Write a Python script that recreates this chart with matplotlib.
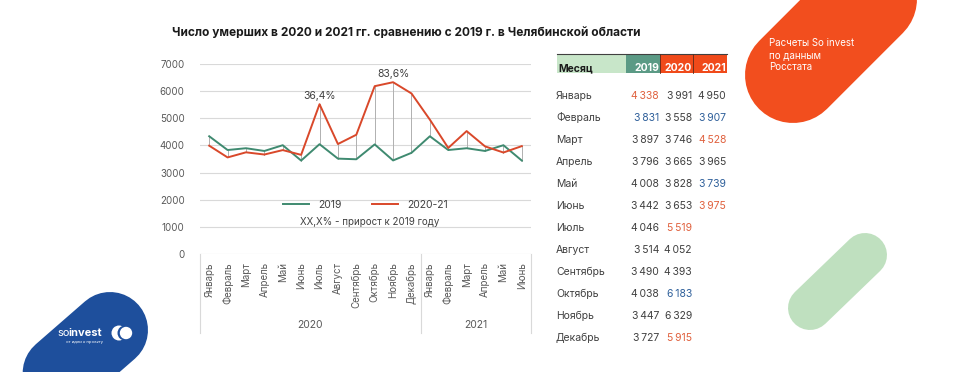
import matplotlib.pyplot as plt
from matplotlib.lines import Line2D
from matplotlib.patches import Rectangle, Circle

plt.rcParams['font.family'] = ['Inter', 'DejaVu Sans']

months = ['Январь', 'Февраль', 'Март', 'Апрель', 'Май', 'Июнь',
          'Июль', 'Август', 'Сентябрь', 'Октябрь', 'Ноябрь', 'Декабрь']
d2019 = [4338, 3831, 3897, 3796, 4008, 3442, 4046, 3514, 3490, 4038, 3447, 3727]
d2020 = [3991, 3558, 3746, 3665, 3828, 3653, 5519, 4052, 4393, 6183, 6329, 5915]
d2021 = [4950, 3907, 4528, 3965, 3739, 3975]
years = ['2020', '2021']
labelled = [6, 10]  # Июль и Ноябрь 2020

# цвета выделения в таблице: r - красный, b - синий
c2019 = ['r', 'b', '', '', '', '', '', '', '', '', '', '']
c2020 = ['', '', '', '', '', '', 'r', '', '', 'b', '', 'r']
c2021 = ['', 'b', 'r', '', 'b', 'r']

GREEN = '#3f8a70'
RED = '#d9482a'
BLUE = '#1e4f9c'
W, H = 957, 372


def fx(x):
    return x / W


def fy(y):
    return 1 - y / H


def stadium(fig, p1, p2, width, color):
    fig.add_artist(Line2D([fx(p1[0]), fx(p2[0])], [fy(p1[1]), fy(p2[1])],
                          transform=fig.transFigure, lw=width * 0.72,
                          color=color, solid_capstyle='round', zorder=0))


def dot(fig, x, y, r, color, z):
    # круг в дюймах, чтобы не сплющивался
    fig.add_artist(Circle((x / 100, (H - y) / 100), r / 100, transform=fig.dpi_scale_trans,
                          facecolor=color, edgecolor='none', zorder=z))


fig = plt.figure(figsize=(9.57, 3.72), dpi=100)

# декор
stadium(fig, (793, 75), (1000, -132), 96, '#f24e1e')
stadium(fig, (810, 308), (865, 255), 44, '#bfe0bf')
stadium(fig, (110, 330), (-22, 445), 76, BLUE)

for i, s in enumerate(['Расчеты So invest', 'по данным', 'Росстата']):
    fig.text(fx(769), fy(43 + 12 * i), s, color='white', fontsize=7, va='center')

fig.text(fx(57), fy(333), 'so', color='white', fontsize=8, va='center')
fig.text(fx(68), fy(333), 'invest', color='white', fontsize=8, fontweight='bold', va='center')
fig.text(fx(66), fy(342), 'от идеи к проекту', color='white', fontsize=3, va='center')
dot(fig, 119, 333, 7.5, 'white', 3)
dot(fig, 125, 333, 7.5, BLUE, 4)
dot(fig, 126, 333, 6.2, 'white', 5)

# заголовок
fig.text(fx(172), fy(33),
         'Число умерших в 2020 и 2021 гг. сравнению с 2019 г. в Челябинской области',
         fontsize=8.6, fontweight='bold', color='#1a1a1a', va='center')

# график
ax = fig.add_axes([fx(200), fy(254), fx(531) - fx(200), fy(64) - fy(254)])
ax.patch.set_visible(False)

s2019 = d2019 + d2019[:len(d2021)]
s2021 = d2020 + d2021
x = list(range(len(s2019)))

for i in x:
    ax.plot([i, i], [s2019[i], s2021[i]], color='#b0b0b0', lw=0.7, zorder=1)
ax.plot(x, s2019, color=GREEN, lw=1.4, zorder=3, label='2019')
ax.plot(x, s2021, color=RED, lw=1.4, zorder=3, label='2020-21')

for i in labelled:
    pct = (s2021[i] / s2019[i] - 1) * 100
    ax.annotate(f'{pct:.1f}%'.replace('.', ','), (i, s2021[i]), xytext=(0, 2),
                textcoords='offset points', ha='center', va='bottom',
                fontsize=7.5, color='#404040')

ax.set_xlim(-0.5, len(x) - 0.5)
ax.set_ylim(0, 7000)
ax.set_yticks(range(0, 7001, 1000))
ax.grid(axis='y', color='#d9d9d9', lw=0.8)
ax.set_axisbelow(True)
for sp in ax.spines.values():
    sp.set_visible(False)
ax.tick_params(axis='y', length=0, pad=11, labelsize=7, labelcolor='#595959')
ax.set_xticks(x)
ax.set_xticklabels(months + months[:len(d2021)], rotation=90, fontsize=7,
                   color='#595959', va='top')
ax.tick_params(axis='x', length=0, pad=6)

tr = ax.get_xaxis_transform()
for xv in [-0.5, 11.5, len(x) - 0.5]:
    ax.plot([xv, xv], [0, -0.416], color='#d9d9d9', lw=0.8, transform=tr, clip_on=False)
ax.text(5.5, -0.374, years[0], transform=tr, ha='center', va='center', fontsize=7.5, color='#595959')
ax.text(14.5, -0.374, years[1], transform=tr, ha='center', va='center', fontsize=7.5, color='#595959')

ax.legend(loc='center', bbox_to_anchor=(0.5, 0.258), ncol=2, frameon=False,
          fontsize=7.5, handlelength=2.5, columnspacing=3, labelcolor='#404040')
ax.text(0.514, 0.168, 'XX,X% - прирост к 2019 году', transform=ax.transAxes,
        ha='center', va='center', fontsize=7, color='#404040')

# таблица
heads = [('Месяц', 557, 626, '#c8e6c9', '#1a1a1a'),
         ('2019', 626, 660, '#5b9a85', 'white'),
         ('2020', 660, 693, '#f04a1a', 'white'),
         ('2021', 693, 727, '#f04a1a', 'white')]
for name, x0, x1, fc, tc in heads:
    fig.add_artist(Rectangle((fx(x0), fy(73)), fx(x1) - fx(x0), fy(54) - fy(73),
                             transform=fig.transFigure, facecolor=fc, edgecolor='none'))
    if name == 'Месяц':
        fig.text(fx(x0 + 1), fy(68), name, fontsize=7.5, fontweight='bold', color=tc, va='center')
    else:
        fig.text(fx(x1 - 1), fy(68), name, fontsize=7.5, fontweight='bold', color=tc,
                 va='center', ha='right')
fig.add_artist(Line2D([fx(557), fx(727)], [fy(54), fy(54)], transform=fig.transFigure,
                      color='#404040', lw=0.8))
for xv in [660, 693]:
    fig.add_artist(Line2D([fx(xv), fx(xv)], [fy(54), fy(73)], transform=fig.transFigure,
                          color='#5a2a1a', lw=0.6))

cmap = {'r': '#e0613e', 'b': '#2e5f9a', '': '#404040'}


def fmt(v):
    return f'{v:,}'.replace(',', '\u202f')


for i, m in enumerate(months):
    y = 96 + 22 * i
    fig.text(fx(556), fy(y), m, fontsize=7.5, color='#404040', va='center')
    cols = [(d2019, c2019, 659), (d2020, c2020, 692), (d2021, c2021, 726)]
    for data, colr, xr in cols:
        if i < len(data):
            fig.text(fx(xr), fy(y), fmt(data[i]), fontsize=7.5, color=cmap[colr[i]],
                     va='center', ha='right')

fig.savefig('out.png', dpi=100)
